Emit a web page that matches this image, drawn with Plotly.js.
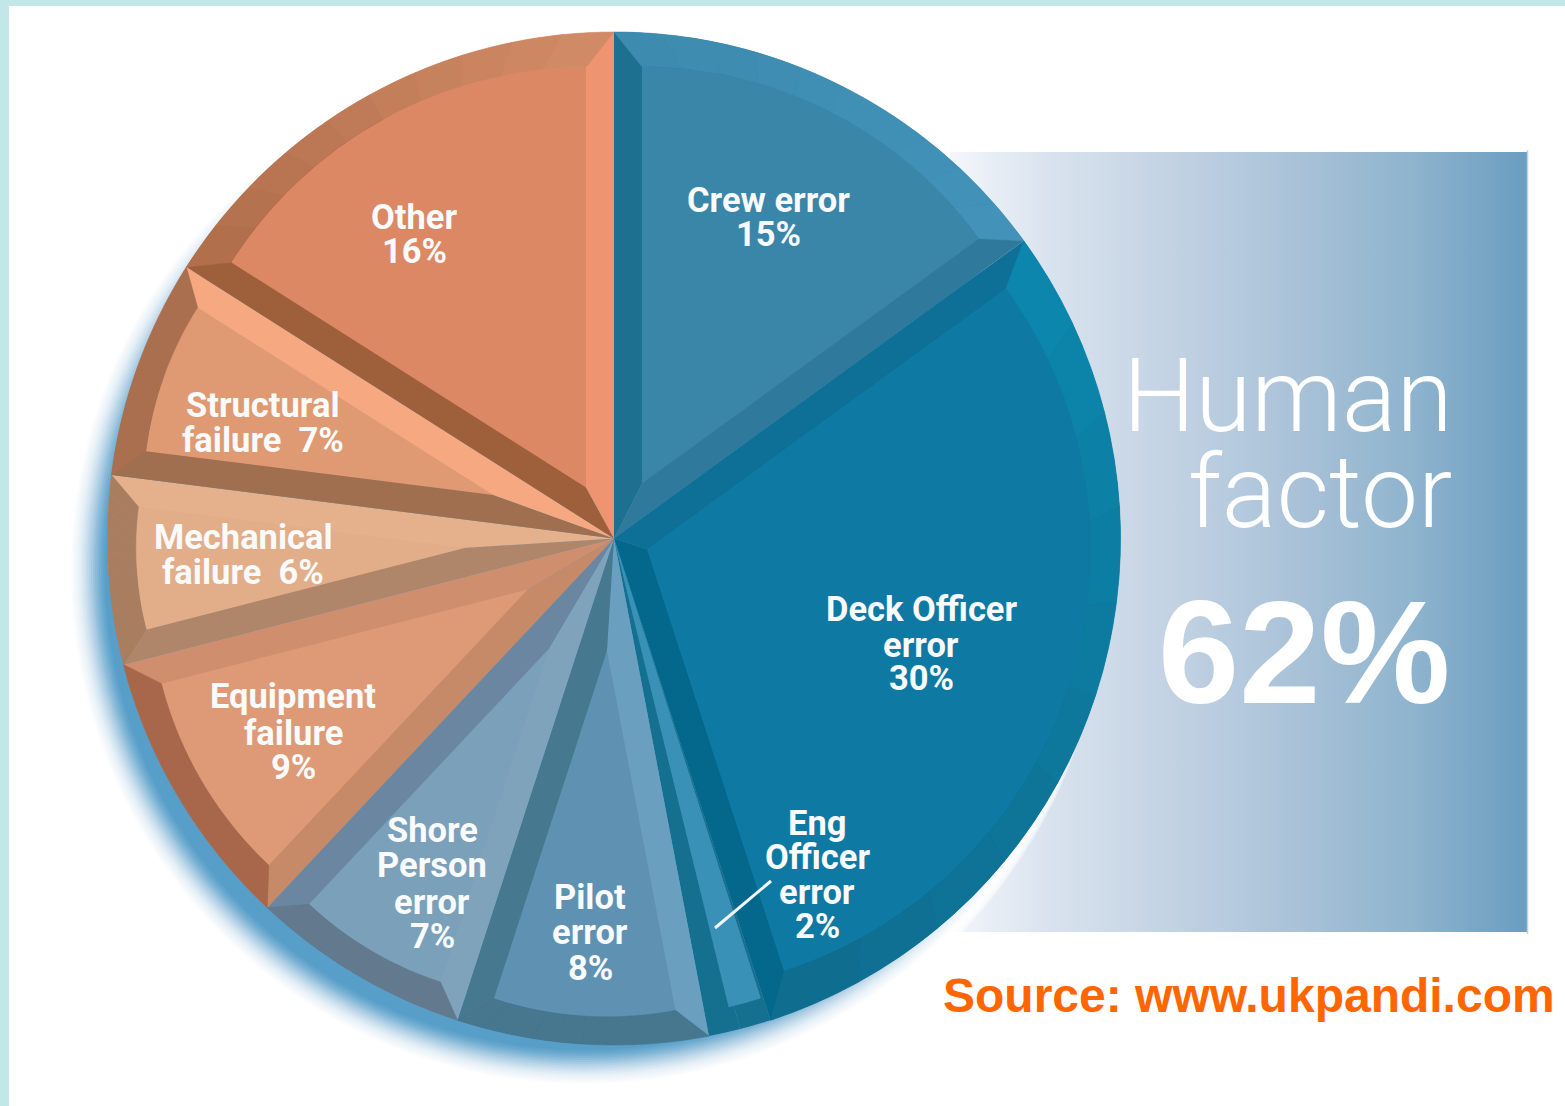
<!DOCTYPE html>
<html><head><meta charset="utf-8">
<script src="https://cdn.plot.ly/plotly-3.0.1.min.js"></script>
<style>html,body{margin:0;padding:0;background:#fff}#c{width:1565px;height:1106px}</style>
</head><body><div id="c"></div>
<script>
// ---- data ----
const categories = ["Crew error","Deck Officer error","Eng Officer error","Pilot error","Shore Person error","Equipment failure","Mechanical failure","Structural failure","Other"];
const shares = [15,30,2,8,7,9,6,7,16];
const headline = ["Human","factor","62%"];
const sourceText = "Source: www.ukpandi.com";
const labelLines = [["Crew error","15%"],["Deck Officer","error","30%"],["Eng","Officer","error","2%"],["Pilot","error","8%"],["Shore","Person","error","7%"],["Equipment","failure","9%"],["Mechanical","failure  6%"],["Structural","failure  7%"],["Other","16%"]];
// ---- styles ----
const faceColors  = ["#3a86a9","#0e79a2","#3a91b8","#5f92b2","#7ba0b9","#de9a76","#e2ad89","#df9a74","#dc8864"];
const rimFrom     = ["#3d8bae","#0c87ae","#15708f","#47768f","#62798e","#a8674a","#a97d5f","#a96f4e","#b06d49"];
const rimTo       = ["#4292ba","#0f6c8e","#15708f","#47768f","#62798e","#a8674a","#a97d5f","#a96f4e","#d28d67"];
const startSide   = ["#1d7090","#0e6f97","#15708f","#6a9fc0","#7fa3bb","#c78a68","#af866a","#a06f50","#9e5f3b"];
const endSide     = ["#2f7a9c","#04678c","#15708f","#46788f","#6a86a0","#cf8e6e","#e5b08c","#f6a980","#ef9470"];
const labelAnchors = [[768,[200,234]],[921,[609,645,678]],[817,[823,857,892,926]],[590,[897,932,968]],[432,[830,865,902,936]],[293,[696,733,767]],[243,[537,572]],[263,[405,440]],[414,[217,251]]];
const W=1565,H=1106,CX=614,CY=538.5,R=506.5,INSET=28,RIM=28,FACETS=10;

function dom(cx,cy,D){return {x:[(cx-D)/W,(cx+D)/W],y:[1-(cy+D)/H,1-(cy-D)/H]};}
const pct=p=>p*2*Math.PI/100;
const pt=(rho,a)=>[CX+rho*Math.sin(a),CY-rho*Math.cos(a)];
function mix(c1,c2,t){const p=c=>[1,3,5].map(i=>parseInt(c.substr(i,2),16));const a=p(c1),b=p(c2);
  return 'rgb('+a.map((v,i)=>Math.round(v+(b[i]-v)*t)).join(',')+')';}
function wedge(name,start,span,D,inset,color){
  const h=Math.PI*span/100, s=inset?inset/Math.sin(h):0, r=D-s;
  return {type:'pie',labels:[name,name+' rest'],values:[span,100-span],sort:false,direction:'clockwise',
    rotation:start*3.6,pull:[s/r,0],domain:dom(CX,CY,D),textinfo:'none',hoverinfo:'skip',showlegend:false,
    marker:{colors:[color,'rgba(0,0,0,0)'],line:{width:0}}};
}
// outer rim of a slice, mitred into the corners of its face
function rimShapes(start,span,colorA,colorB){
  const out=[],a1=pct(start),a2=pct(start+span),mid=(a1+a2)/2,h=(a2-a1)/2;
  const s=INSET/Math.sin(h),rf=R-RIM-s,ax=Math.sin(mid)*s,ay=-Math.cos(mid)*s;
  const outer=t=>pt(R,a1+(a2-a1)*t);
  const inner=t=>{const a=a1+(a2-a1)*t;return [CX+ax+rf*Math.sin(a),CY+ay-rf*Math.cos(a)];};
  for(let k=0;k<FACETS;k++){
    const t0=k/FACETS,t1=(k+1)/FACETS,ts=[0,1,2,3,4].map(j=>t0+(t1-t0)*j/4);
    const pts=ts.map(outer).concat(ts.slice().reverse().map(inner));
    const col=mix(colorA,colorB,(k+0.5)/FACETS);
    out.push({type:'path',xref:'x',yref:'y',layer:'above',fillcolor:col,line:{color:col,width:0.6},
      path:'M'+pts.map(q=>q[0].toFixed(2)+' '+q[1].toFixed(2)).join('L')+'Z'});
  }
  return out;
}
const traces=[];
traces.push({type:'scatter',x:[950,1527,1527,950,950],y:[152,152,932,932,152],mode:'lines',line:{width:0},fill:'toself',
  fillgradient:{type:'horizontal',colorscale:[[0,'#f4f6fb'],[0.17,'#d9e3ee'],[0.35,'#c6d5e5'],[0.6,'#a9c2d8'],[0.8,'#8fb4ce'],[1,'#6a9dc0']]},
  hoverinfo:'skip',showlegend:false});
const SHX=584,SHY=571,SHR=513;
for(let k=0;k<5;k++){traces.push({type:'pie',labels:['halo'+k],values:[1],domain:dom(SHX,SHY,SHR+10-2*k),textinfo:'none',hoverinfo:'skip',showlegend:false,
  marker:{colors:['rgba(255,255,255,0.45)'],line:{width:0}}});}
for(let k=0;k<18;k++){traces.push({type:'pie',labels:['shadow'+k],values:[1],domain:dom(SHX,SHY,SHR-2*k),textinfo:'none',hoverinfo:'skip',showlegend:false,
  marker:{colors:['rgba(70,148,196,'+(0.025+0.0009*k*k).toFixed(3)+')'],line:{width:0}}});}
const halfLabels=[],halfValues=[],halfColors=[];
categories.forEach((c,i)=>{halfLabels.push(c+' a',c+' b');halfValues.push(shares[i]/2,shares[i]/2);halfColors.push(startSide[i],endSide[i]);});
traces.push({type:'pie',labels:halfLabels,values:halfValues,sort:false,direction:'clockwise',rotation:0,domain:dom(CX,CY,R),
  textinfo:'none',hoverinfo:'skip',showlegend:false,marker:{colors:halfColors,line:{width:0}}});
let acc=0;const rims=[];
categories.forEach((c,i)=>{
  const v=shares[i];
  if(v>2){
    traces.push(wedge(c,acc,v,R-RIM,INSET,faceColors[i]));
    rims.push(...rimShapes(acc,v,rimFrom[i],rimTo[i]));
  } else {
    traces.push(wedge(c,acc+0.08,v*0.55,R-24,0,faceColors[i]));
  }
  acc+=v;
});
const ann=[];
const txt=(t,x,y,size,color,family,weight)=>ann.push({x,y,xref:'x',yref:'y',text:t,showarrow:false,xanchor:'center',yanchor:'middle',
  font:{size,color,family,weight}});
labelLines.forEach((lines,i)=>lines.forEach((t,j)=>txt(t.replace(/  /g,'\u00a0\u00a0'),labelAnchors[i][0],labelAnchors[i][1][j],34.5,'#f8fafb','Roboto',700)));
txt(headline[0],1287,396,102,'#ffffff','Roboto',300);
txt(headline[1],1320,492,102,'#ffffff','Roboto',300);
txt(headline[2],1304,652,146,'#ffffff','Liberation Sans',700);
txt(sourceText,1249,995,48,'#ff6600','Liberation Sans',700);

const layout={width:W,height:H,margin:{l:0,r:0,t:0,b:0},paper_bgcolor:'#fff',plot_bgcolor:'rgba(0,0,0,0)',showlegend:false,
  xaxis:{range:[0,W],visible:false,fixedrange:true,domain:[0,1]},
  yaxis:{range:[H,0],visible:false,fixedrange:true,domain:[0,1]},
  annotations:ann,
  shapes:rims.concat([
   {type:'rect',xref:'x',yref:'y',x0:0,x1:W,y0:0,y1:6,fillcolor:'#c3e6e9',line:{width:0},layer:'above'},
   {type:'rect',xref:'x',yref:'y',x0:0,x1:9,y0:0,y1:H,fillcolor:'#c3e6e9',line:{width:0},layer:'above'},
   {type:'rect',xref:'x',yref:'y',x0:924,x1:W,y0:954,y1:H,fillcolor:'#ffffff',line:{width:0},layer:'above'},
   {type:'line',xref:'x',yref:'y',x0:1527.5,y0:150,x1:1527.5,y1:934,line:{color:'#b9d3e2',width:1.5},layer:'above'},
   {type:'line',xref:'x',yref:'y',x0:715,y0:928,x1:771,y1:881,line:{color:'#f2f6f8',width:3},layer:'above'}
  ])};
Plotly.newPlot('c',traces,layout,{staticPlot:true,displayModeBar:false});
</script></body></html>
